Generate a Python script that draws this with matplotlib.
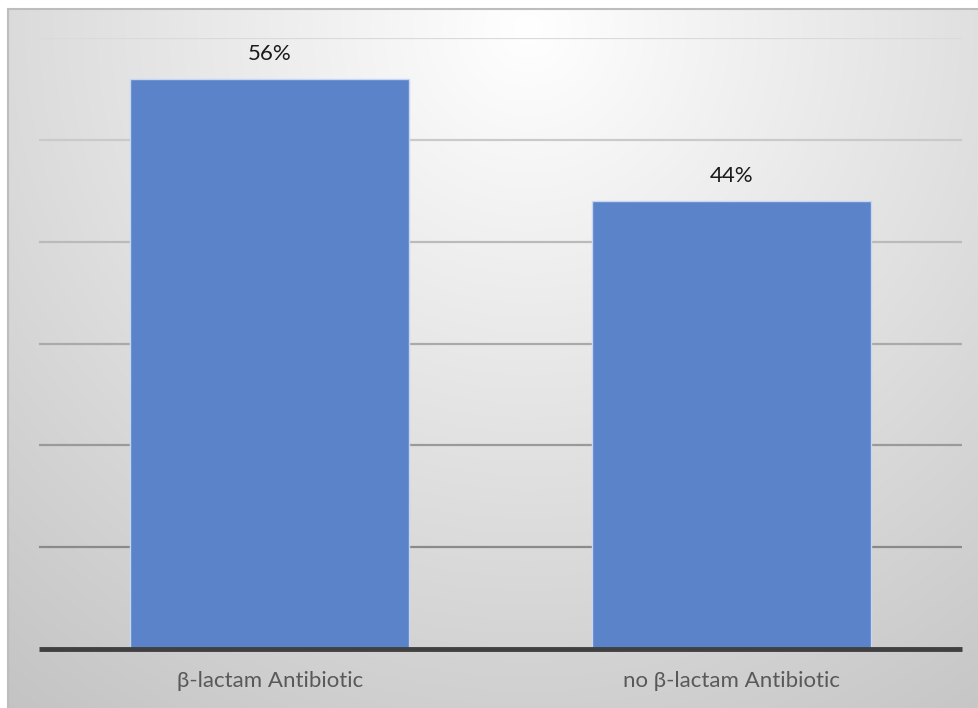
import numpy as np
import matplotlib.pyplot as plt
from matplotlib.colors import to_rgb

# Share of patients by antibiotic group
categories = ['β-lactam Antibiotic', 'no β-lactam Antibiotic']
shares = [0.56, 0.44]
grid_levels = [0.1, 0.2, 0.3, 0.4, 0.5, 0.6]

plt.rcParams['font.family'] = ['Lato', 'DejaVu Sans']

W, H = 979, 708
fig = plt.figure(figsize=(W / 100, H / 100), dpi=100)
fig.patch.set_facecolor('white')

# Radial grey gradient behind the chart area
bg = fig.add_axes([8 / W, 0, (W - 8) / W, (H - 9) / H])
yy, xx = np.mgrid[0:H - 9, 0:W - 8]
dist = np.hypot(xx - 520, yy - 20) / 880
dist = np.clip(dist, 0, 1)
shade = 1.0 - 0.24 * dist
img = np.dstack([shade, shade, shade])
bg.imshow(img, aspect='auto', interpolation='bilinear')
bg.set_xticks([])
bg.set_yticks([])
for side in ['right', 'bottom']:
    bg.spines[side].set_visible(False)
for side in ['top', 'left']:
    bg.spines[side].set_color('#bdbdbd')
    bg.spines[side].set_linewidth(1.5)

# Plot area
ax = fig.add_axes([39 / W, 59 / H, (962 - 39) / W, (649 - 38) / H])
ax.set_facecolor('none')
ax.set_xlim(-0.5, 1.5)
ax.set_ylim(0, 0.6)

top_c = np.array(to_rgb('#dadada'))
bot_c = np.array(to_rgb('#8a8a8a'))
for lv in grid_levels:
    t = (lv - 0.1) / 0.5
    c = bot_c + (top_c - bot_c) * t
    ax.axhline(lv, color=c, linewidth=1.6, zorder=1)

x = np.arange(len(categories))
bars = ax.bar(x, shares, width=0.605, color='#5a83c9', edgecolor='#c9d6ef',
              linewidth=1.0, zorder=2)

for b, v in zip(bars, shares):
    ax.annotate(f'{v:.0%}', (b.get_x() + b.get_width() / 2, v),
                xytext=(0, 10.5), textcoords='offset points', ha='center',
                va='bottom', fontsize=16, color='#1a1a1a')

ax.axhline(0, color='#404040', linewidth=3.5, zorder=3, clip_on=False,
           solid_capstyle='butt')

ax.set_xticks(x)
ax.set_xticklabels(categories, fontsize=16, color='#595959')
ax.tick_params(axis='x', length=0, pad=16)
ax.set_yticks([])
for side in ['top', 'right', 'left', 'bottom']:
    ax.spines[side].set_visible(False)

fig.savefig('out.png', dpi=100)
